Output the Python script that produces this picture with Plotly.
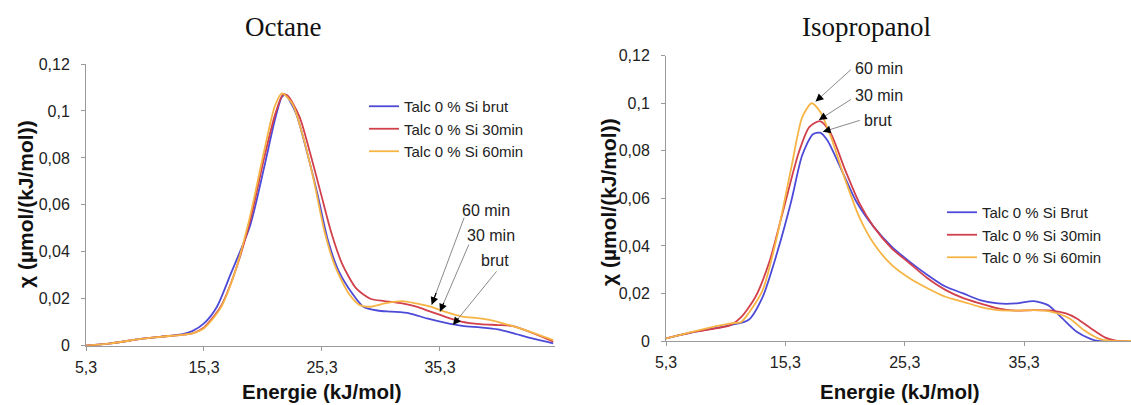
import plotly.graph_objects as go

# ---------------- data ----------------
series_names_oct = ["Talc 0 % Si brut", "Talc 0 % Si 30min", "Talc 0 % Si 60min"]
series_names_iso = ["Talc 0 % Si Brut", "Talc 0 % Si 30min", "Talc 0 % Si 60min"]

oct_x_brut = [5.3, 7.4, 10.1, 11.6, 13.4, 14.3, 15.3, 16.4, 17.6, 19.2, 20.4, 21.3, 21.9, 22.2, 23.1, 24.0, 24.9, 25.8,
              26.7, 27.9, 28.8, 30.0, 31.2, 32.7, 34.2, 35.7, 37.2, 38.7, 40.2, 41.4, 43.2, 44.9]
oct_y_brut = [0.0, 0.001, 0.003, 0.0038, 0.0048, 0.0062, 0.0095, 0.0166, 0.031, 0.051, 0.076, 0.096, 0.106, 0.1068,
              0.099, 0.083, 0.065, 0.045, 0.032, 0.022, 0.0166, 0.015, 0.0145, 0.0138, 0.0116, 0.0098, 0.0084,
              0.0078, 0.007, 0.0055, 0.003, 0.001]

oct_x_30 = [5.3, 7.4, 10.1, 11.6, 13.4, 14.3, 15.3, 16.7, 17.9, 19.2, 20.4, 21.3, 22.0, 22.4, 23.4, 24.3, 25.2, 26.1,
            27.0, 28.2, 29.4, 30.6, 32.1, 33.3, 34.5, 35.7, 37.2, 38.7, 40.2, 41.4, 43.2, 44.9]
oct_y_30 = [0.0, 0.001, 0.003, 0.0038, 0.0046, 0.0052, 0.0078, 0.0165, 0.031, 0.053, 0.080, 0.098, 0.107, 0.1065,
            0.0975, 0.082, 0.065, 0.048, 0.035, 0.0244, 0.020, 0.019, 0.018, 0.0166, 0.0145, 0.0124, 0.0102,
            0.0092, 0.0088, 0.0084, 0.0053, 0.0017]

oct_x_60 = [5.3, 7.4, 10.1, 11.6, 13.4, 14.3, 15.3, 16.7, 17.9, 19.2, 20.4, 21.3, 21.9, 22.8, 23.7, 24.6, 25.5, 26.4,
            27.6, 28.5, 29.4, 30.6, 32.1, 33.3, 34.5, 35.7, 37.2, 38.7, 40.2, 41.4, 43.2, 44.9]
oct_y_60 = [0.0, 0.001, 0.003, 0.0038, 0.0046, 0.0052, 0.0074, 0.016, 0.031, 0.055, 0.083, 0.102, 0.1075, 0.103,
            0.089, 0.0706, 0.049, 0.034, 0.022, 0.0173, 0.0166, 0.018, 0.019, 0.018, 0.0166, 0.0145, 0.0124,
            0.0116, 0.0102, 0.0084, 0.0055, 0.0024]

iso_x_brut = [5.3, 7.75, 10.7, 12.2, 13.4, 14.6, 15.8, 16.7, 17.6, 18.2, 18.8, 20.0, 21.2, 22.7, 24.2, 25.7, 27.2,
              28.7, 30.2, 31.6, 33.1, 34.6, 36.1, 37.3, 38.5, 39.7, 40.9, 41.5, 44.3]
iso_y_brut = [0.0011, 0.0039, 0.0067, 0.0088, 0.0186, 0.037, 0.059, 0.078, 0.087, 0.0876, 0.0845, 0.072, 0.059,
              0.048, 0.0397, 0.0334, 0.0278, 0.0229, 0.020, 0.0172, 0.0158, 0.0158, 0.0168, 0.0151, 0.0095, 0.0039,
              0.0008, 0.0, 0.0]

iso_x_30 = [5.3, 7.75, 10.7, 11.6, 12.8, 14.0, 15.2, 16.4, 17.3, 18.2, 19.1, 20.3, 21.5, 22.7, 24.2, 25.7, 27.2,
            28.7, 30.2, 31.6, 33.1, 34.6, 36.1, 37.6, 38.8, 39.7, 40.9, 42.1, 43.0, 44.3]
iso_y_30 = [0.0011, 0.0039, 0.0067, 0.010, 0.0186, 0.034, 0.0565, 0.079, 0.090, 0.0925, 0.0873, 0.072, 0.058, 0.048,
            0.039, 0.0327, 0.0264, 0.0215, 0.018, 0.0158, 0.0137, 0.0128, 0.013, 0.0128, 0.0116, 0.0095, 0.0053,
            0.0014, 0.0001, 0.0]

iso_x_60 = [5.3, 7.75, 10.7, 11.6, 12.2, 13.4, 14.6, 15.8, 16.7, 17.5, 18.2, 19.1, 20.3, 21.5, 22.7, 24.2, 25.7,
            27.2, 28.7, 30.2, 31.6, 33.1, 34.6, 36.1, 37.6, 39.1, 40.3, 41.5, 42.4, 44.3]
iso_y_60 = [0.0011, 0.0042, 0.0074, 0.008, 0.0116, 0.0214, 0.044, 0.073, 0.094, 0.100, 0.0965, 0.086, 0.068, 0.052,
            0.041, 0.032, 0.0264, 0.0222, 0.0186, 0.0165, 0.0144, 0.013, 0.0128, 0.013, 0.0123, 0.0095, 0.0046,
            0.0011, 0.0001, 0.0]

x_tick_vals = [5.3, 15.3, 25.3, 35.3]
x_tick_text = ["5,3", "15,3", "25,3", "35,3"]
y_tick_vals = [0, 0.02, 0.04, 0.06, 0.08, 0.10, 0.12]
y_tick_text = ["0", "0,02", "0,04", "0,06", "0,08", "0,1", "0,12"]

# ---------------- style ----------------
W, H = 1131, 405
colors = ["#4d4ad8", "#d2404c", "#f6b445"]
SANS = "Liberation Sans, Arial, sans-serif"
SERIF = "Liberation Serif, Times New Roman, serif"
AXC = "#9a9a9a"

fig = go.Figure()

oct_sets = [(oct_x_brut, oct_y_brut), (oct_x_30, oct_y_30), (oct_x_60, oct_y_60)]
iso_sets = [(iso_x_brut, iso_y_brut), (iso_x_30, iso_y_30), (iso_x_60, iso_y_60)]

for i, (xs, ys) in enumerate(oct_sets):
    fig.add_trace(go.Scatter(x=xs, y=ys, mode="lines", name=series_names_oct[i],
                             line=dict(color=colors[i], width=1.8, shape="spline", smoothing=0.7),
                             xaxis="x", yaxis="y", legend="legend"))
for i, (xs, ys) in enumerate(iso_sets):
    fig.add_trace(go.Scatter(x=xs, y=ys, mode="lines", name=series_names_iso[i],
                             line=dict(color=colors[i], width=1.8, shape="spline", smoothing=0.7),
                             xaxis="x2", yaxis="y2", legend="legend2"))


def px_x(p):
    return p / W


def px_y(p):
    return 1 - p / H


axis_common = dict(showline=True, linecolor=AXC, linewidth=1, ticks="outside", tickcolor=AXC, ticklen=4,
                   showgrid=False, zeroline=False, automargin=False,
                   tickfont=dict(family=SANS, size=16, color="#222"))

fig.update_layout(
    width=W, height=H,
    margin=dict(l=0, r=0, t=0, b=0, pad=0, autoexpand=False),
    paper_bgcolor="white", plot_bgcolor="white",
    xaxis=dict(domain=[px_x(86), px_x(555)], range=[5.3, 45.05], tickvals=x_tick_vals, ticktext=x_tick_text,
               anchor="y", ticklabelstandoff=3, **axis_common),
    yaxis=dict(domain=[px_y(345.7), px_y(64)], range=[0, 0.12], tickvals=y_tick_vals, ticktext=y_tick_text,
               anchor="x", ticklabelstandoff=8, **axis_common),
    xaxis2=dict(domain=[px_x(666), px_x(1131)], range=[5.3, 44.25], tickvals=x_tick_vals, ticktext=x_tick_text,
                anchor="y2", ticklabelstandoff=3, **axis_common),
    yaxis2=dict(domain=[px_y(341), px_y(55.7)], range=[0, 0.12], tickvals=y_tick_vals, ticktext=y_tick_text,
                anchor="x2", ticklabelstandoff=8, **axis_common),
    legend=dict(x=px_x(364), y=px_y(90), xanchor="left", yanchor="top", bgcolor="rgba(0,0,0,0)",
                font=dict(family=SANS, size=15, color="#222"), tracegroupgap=0, itemwidth=30),
    legend2=dict(x=px_x(942), y=px_y(196), xanchor="left", yanchor="top", bgcolor="rgba(0,0,0,0)",
                 font=dict(family=SANS, size=15, color="#222"), tracegroupgap=0, itemwidth=30),
    showlegend=True,
)

ann = []
# titles
ann.append(dict(text="Octane", x=px_x(283), y=px_y(27), xref="paper", yref="paper", showarrow=False,
                font=dict(family=SERIF, size=27, color="#111"), xanchor="center", yanchor="middle"))
ann.append(dict(text="Isopropanol", x=px_x(866), y=px_y(27), xref="paper", yref="paper", showarrow=False,
                font=dict(family=SERIF, size=27, color="#111"), xanchor="center", yanchor="middle"))
# axis titles
ytitle = "χ (µmol/(kJ/mol))"
ann.append(dict(text="<b>" + ytitle + "</b>", x=px_x(26), y=px_y(204), xref="paper", yref="paper", showarrow=False,
                textangle=-90, font=dict(family=SANS, size=21, color="#111"), xanchor="center", yanchor="middle"))
ann.append(dict(text="<b>" + ytitle + "</b>", x=px_x(608), y=px_y(202), xref="paper", yref="paper", showarrow=False,
                textangle=-90, font=dict(family=SANS, size=21, color="#111"), xanchor="center", yanchor="middle"))
ann.append(dict(text="<b>Energie (kJ/mol)</b>", x=px_x(322), y=px_y(391), xref="paper", yref="paper",
                showarrow=False, font=dict(family=SANS, size=20.5, color="#111"), xanchor="center",
                yanchor="middle"))
ann.append(dict(text="<b>Energie (kJ/mol)</b>", x=px_x(900), y=px_y(391), xref="paper", yref="paper",
                showarrow=False, font=dict(family=SANS, size=20.5, color="#111"), xanchor="center",
                yanchor="middle"))

# arrow callouts: (label, text_x, text_y, tail_x, tail_y, head_x, head_y)
oct_callouts = [("60 min", 39.2, 0.0578, 37.4, 0.0552, 34.6, 0.0174),
                ("30 min", 39.6, 0.0470, 37.8, 0.0437, 35.3, 0.0145),
                ("brut", 40.0, 0.0362, 40.2, 0.0323, 36.4, 0.0088)]
iso_callouts = [("60 min", 23.16, 0.1147, 20.91, 0.1147, 17.83, 0.1007),
                ("30 min", 23.16, 0.1034, 20.91, 0.1020, 18.11, 0.0930),
                ("brut", 23.07, 0.0927, 21.66, 0.0930, 18.44, 0.0880)]

for callouts, xr, yr in [(oct_callouts, "x", "y"), (iso_callouts, "x2", "y2")]:
    for lab, tx, ty, ax_, ay_, hx, hy in callouts:
        ann.append(dict(text=lab, x=tx, y=ty, xref=xr, yref=yr, showarrow=False,
                        font=dict(family=SANS, size=16, color="#222"), xanchor="center", yanchor="middle"))
        # grey leader line
        ann.append(dict(text="", x=hx, y=hy, xref=xr, yref=yr, ax=ax_, ay=ay_, axref=xr, ayref=yr,
                        showarrow=True, arrowhead=0, arrowwidth=1, arrowcolor="#8a8a8a"))
        # black arrow head
        f = 0.15
        ann.append(dict(text="", x=hx, y=hy, xref=xr, yref=yr, ax=hx + (ax_ - hx) * f, ay=hy + (ay_ - hy) * f,
                        axref=xr, ayref=yr, showarrow=True, arrowhead=2, arrowsize=1.3, arrowwidth=1.2,
                        arrowcolor="#000"))

fig.update_layout(annotations=ann)
fig.write_html("out.html", config={"displayModeBar": False},
               post_script="document.body.style.margin='0px';document.body.style.overflow='hidden';")
